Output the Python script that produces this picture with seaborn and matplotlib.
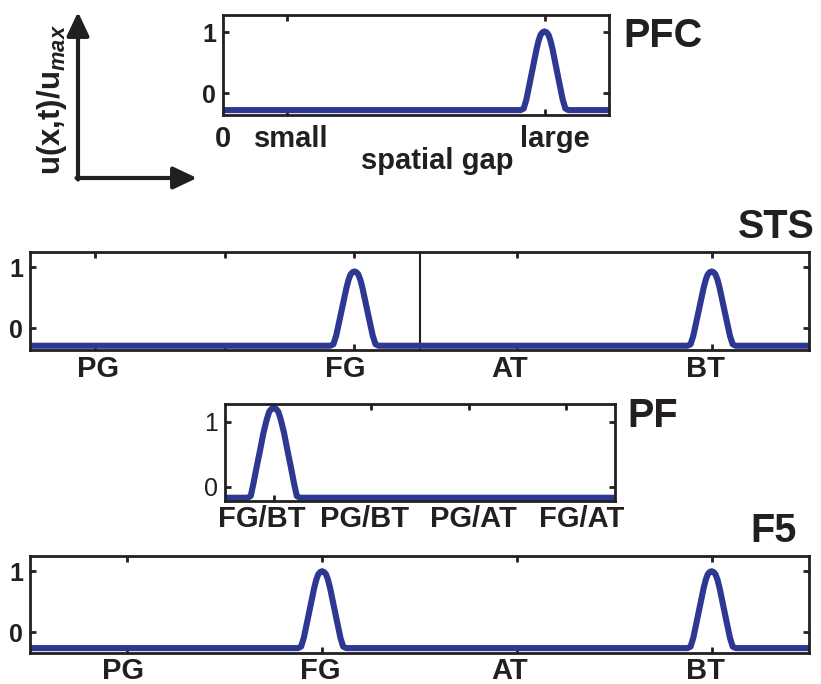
import numpy as np
import matplotlib
matplotlib.use("Agg")
import matplotlib.pyplot as plt
import seaborn as sns

sns.set_style("white")
plt.rcParams["font.family"] = ["Liberation Sans", "DejaVu Sans"]
plt.rcParams["font.weight"] = "bold"
plt.rcParams["mathtext.fontset"] = "custom"
plt.rcParams["mathtext.rm"] = "Liberation Sans:bold"
plt.rcParams["mathtext.bf"] = "Liberation Sans:bold"
plt.rcParams["mathtext.it"] = "Liberation Sans:italic:bold"
plt.rcParams["mathtext.bfit"] = "Liberation Sans:italic:bold"

LINE = "#2c3892"
INK = "#231f20"

# Peak profile: offset from peak centre (field units) and fraction of the
# peak height above the resting level.
PEAK_OFFSETS = [-6.2, -5.4, -4.7, -3.85, -2.95, -2.05, -1.5, -1.0, -0.5, 0.0,
                0.5, 1.0, 1.5, 2.05, 2.95, 3.85, 4.7, 5.4, 6.2]
PEAK_FRACTION = [0.0, 0.02, 0.135, 0.34, 0.56, 0.78, 0.89, 0.96, 0.99, 1.0,
                 0.99, 0.96, 0.89, 0.78, 0.56, 0.34, 0.135, 0.02, 0.0]
PF_PEAK_OFFSETS = [-6.7, -5.9, -5.2, -4.35, -3.5, -2.65, -1.8, -1.15, -0.55,
                   0.0, 0.55, 1.15, 1.8, 2.65, 3.5, 4.35, 5.2, 5.9, 6.7]
PF_PEAK_FRACTION = [0.0, 0.02, 0.16, 0.35, 0.53, 0.72, 0.87, 0.96, 0.99,
                    1.0, 0.99, 0.96, 0.87, 0.72, 0.53, 0.35, 0.16, 0.02, 0.0]

# PFC: spatial gap field
PFC_RANGE = (0, 100)
PFC_REST = -0.28
PFC_PEAKS = [83.3]
PFC_HEIGHTS = [1.01]
PFC_YLIM = (-0.36, 1.28)
PFC_TICK_MARKS = [16.7, 83.3]
PFC_LABEL_POS = [0, 17.6, 86]
PFC_LABELS = ["0", "small", "large"]

# STS: action recognition field
STS_RANGE = (0, 200)
STS_REST = -0.29
STS_PEAKS = [83.3, 175]
STS_HEIGHTS = [0.93, 0.93]
STS_YLIM = (-0.36, 1.25)
STS_TICK_MARKS = [16.7, 50, 83.3, 125, 175]
STS_LABEL_POS = [17.5, 81, 123.2, 173.5]
STS_LABELS = ["PG", "FG", "AT", "BT"]

# PF: grasp/transport combination field
PF_RANGE = (0, 100)
PF_REST = -0.17
PF_PEAKS = [12.5]
PF_HEIGHTS = [1.21]
PF_YLIM = (-0.22, 1.27)
PF_TICK_MARKS = [12.5, 37.5, 62.5, 87.5]
PF_LABEL_POS = [9.5, 35.9, 63.6, 91.5]
PF_LABELS = ["FG/BT", "PG/BT", "PG/AT", "FG/AT"]

# F5: motor field
F5_RANGE = (0, 200)
F5_REST = -0.26
F5_PEAKS = [75, 175]
F5_HEIGHTS = [1.0, 1.0]
F5_YLIM = (-0.34, 1.25)
F5_TICK_MARKS = [25, 75, 125, 175]
F5_LABEL_POS = [24, 74.5, 123.2, 173.5]
F5_LABELS = ["PG", "FG", "AT", "BT"]

W, H = 821, 684
fig = plt.figure(figsize=(W / 100, H / 100), dpi=100)

# overlay in pixel units for the schematic axis arrows and field names
ov = fig.add_axes([0, 0, 1, 1])
ov.set_xlim(0, W)
ov.set_ylim(H, 0)
ov.set_axis_off()


def box(left, top, right, bottom):
    return [left / W, 1 - bottom / H, (right - left) / W, (bottom - top) / H]


def activation(xrange_, rest, peaks, heights, offsets, fraction):
    xs = [xrange_[0]]
    ys = [rest]
    for c, h in zip(peaks, heights):
        for o, f in zip(offsets, fraction):
            xs.append(c + o)
            ys.append(rest + f * (h - rest))
    xs.append(xrange_[1])
    ys.append(rest)
    return np.array(xs), np.array(ys)


def field_panel(rect, xrange_, rest, peaks, heights, ylim, marks, lpos,
                labels, offsets=PEAK_OFFSETS, fraction=PEAK_FRACTION,
                divider=None, ytick_weight="bold", xpad=3.5):
    ax = fig.add_axes(rect)
    xs, ys = activation(xrange_, rest, peaks, heights, offsets, fraction)
    sns.lineplot(x=xs, y=ys, ax=ax, color=LINE, linewidth=4.4,
                 estimator=None, sort=False, solid_joinstyle="round",
                 solid_capstyle="butt")
    if divider is not None:
        ax.axvline(divider, color=INK, lw=1.5, zorder=1)
    ax.set_xlim(*xrange_)
    ax.set_ylim(*ylim)
    for s in ax.spines.values():
        s.set_visible(True)
        s.set_color(INK)
        s.set_linewidth(2.0)
    ax.set_xticks(lpos)
    ax.set_xticklabels(labels, fontsize=21, fontweight="bold", color=INK)
    ax.set_xticks(marks, minor=True)
    ax.tick_params(axis="x", which="major", length=0, pad=xpad)
    ax.tick_params(axis="x", which="minor", direction="in", length=4,
                   width=2, top=True, bottom=True, color=INK)
    ax.set_yticks([0, 1])
    ax.set_yticklabels(["0", "1"], fontsize=18, fontweight=ytick_weight,
                       color=INK)
    ax.tick_params(axis="y", direction="in", length=4, width=2, left=True,
                   right=True, pad=5, color=INK)
    ax.set_xlabel("")
    ax.set_ylabel("")
    return ax


ax_pfc = field_panel(box(223, 15, 609, 115), PFC_RANGE, PFC_REST, PFC_PEAKS,
                     PFC_HEIGHTS, PFC_YLIM, PFC_TICK_MARKS, PFC_LABEL_POS,
                     PFC_LABELS, xpad=7)
ax_pfc.set_xlabel("spatial gap", fontsize=21, fontweight="bold", color=INK)
ax_pfc.xaxis.set_label_coords((437 - 223) / 386, -0.32)

field_panel(box(30, 252, 809, 350), STS_RANGE, STS_REST, STS_PEAKS,
            STS_HEIGHTS, STS_YLIM, STS_TICK_MARKS, STS_LABEL_POS, STS_LABELS,
            divider=100)

field_panel(box(225, 404, 615, 501), PF_RANGE, PF_REST, PF_PEAKS, PF_HEIGHTS,
            PF_YLIM, PF_TICK_MARKS, PF_LABEL_POS, PF_LABELS,
            offsets=PF_PEAK_OFFSETS, fraction=PF_PEAK_FRACTION,
            ytick_weight="normal", xpad=3)

field_panel(box(30, 556, 809, 653), F5_RANGE, F5_REST, F5_PEAKS, F5_HEIGHTS,
            F5_YLIM, F5_TICK_MARKS, F5_LABEL_POS, F5_LABELS, xpad=3)

# field names
title_kw = dict(fontsize=28.5, fontweight="bold", color=INK, va="baseline")
ov.text(623, 47, "PFC", ha="left", **title_kw)
ov.text(815, 238, "STS", ha="right", **title_kw)
ov.text(627, 427, "PF", ha="left", **title_kw)
ov.text(797, 542, "F5", ha="right", **title_kw)

# schematic axes for activation vs. field dimension
arrow_kw = dict(arrowstyle="-|>,head_length=0.72,head_width=0.34",
                lw=3, color=INK, mutation_scale=20, shrinkA=0, shrinkB=0)
ov.annotate("", xy=(78, 12), xytext=(78, 179.5), arrowprops=arrow_kw)
ov.annotate("", xy=(197, 178), xytext=(76.5, 178), arrowprops=arrow_kw)
ov.text(52, 100, r"$\mathbf{u(x{,}t)/u}_{\mathbfit{max}}$", rotation=90,
        ha="center", va="center", fontsize=22.5, color=INK)

fig.savefig("out.png", dpi=100)
